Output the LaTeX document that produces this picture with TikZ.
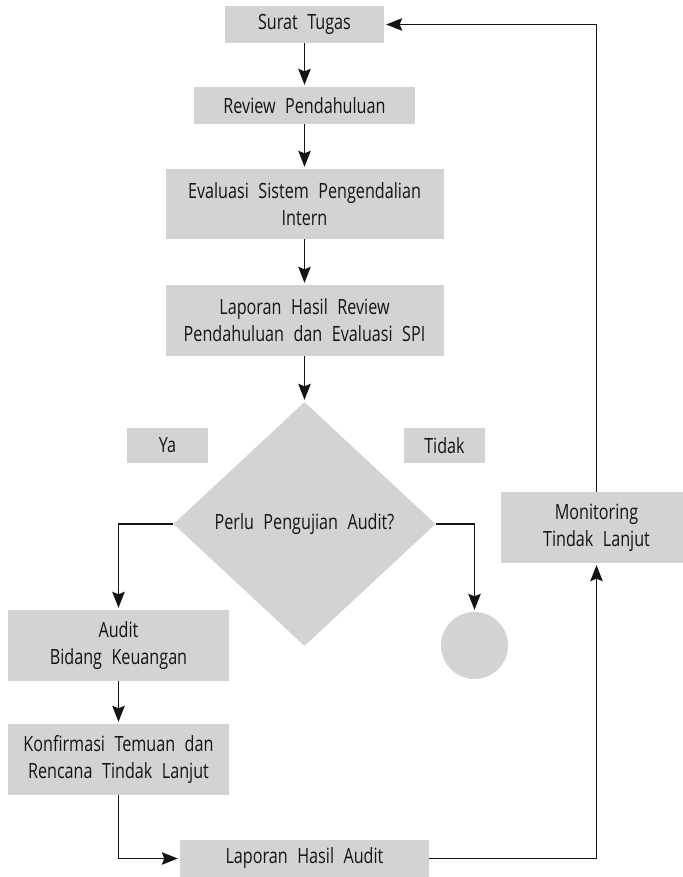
\documentclass[tikz,border=0pt]{standalone}
\usepackage{fontspec}
\setmainfont{Open Sans}[FakeStretch=0.77]
\usetikzlibrary{shapes.geometric,arrows.meta}
\definecolor{boxgray}{HTML}{D3D3D3}
\definecolor{txtgray}{HTML}{141414}
\newcommand\myboxfont{\fontsize{21}{27}\selectfont\spaceskip=0.45em plus 0.1em\relax}
\tikzset{
  box/.style={rectangle, fill=boxgray, inner sep=0pt, align=center, text=txtgray, font=\myboxfont},
  arr/.style={line width=1.3pt, draw=txtgray, -{Stealth[length=16pt,width=12.5pt,inset=2.5pt]}, shorten >=2pt},
}
\begin{document}
\begin{tikzpicture}[x=1pt,y=-1pt]
\useasboundingbox (0,0) rectangle (682,877);
\node[box, minimum width=159pt, minimum height=37pt] (st) at (304.5,24.5) {Surat Tugas};
\node[box, minimum width=221pt, minimum height=37pt] (rp) at (304.5,105.5) {Review Pendahuluan};
\node[box, minimum width=278pt, minimum height=70pt] (esp) at (304.5,204) {Evaluasi Sistem Pengendalian\\Intern};
\node[box, minimum width=278pt, minimum height=71pt] (lhr) at (304.5,320.5) {Laporan Hasil Review\\Pendahuluan dan Evaluasi SPI};
\node[diamond, fill=boxgray, inner sep=0pt, minimum width=262pt, minimum height=244pt, text=txtgray, font=\myboxfont] (dia) at (304.5,524) {Perlu Pengujian Audit?};
\node[box, minimum width=81pt, minimum height=35pt] (ya) at (167.5,445.5) {Ya};
\node[box, minimum width=81pt, minimum height=35pt] (td) at (444.5,445.5) {Tidak};
\node[circle, fill=boxgray, minimum size=67pt, inner sep=0pt] (end) at (474.5,645.5) {};
\node[box, minimum width=221pt, minimum height=71pt] (aud) at (118.5,645.5) {Audit\\Bidang Keuangan};
\node[box, minimum width=221pt, minimum height=71pt] (konf) at (118.5,759.5) {Konfirmasi Temuan dan\\Rencana Tindak Lanjut};
\node[box, minimum width=249pt, minimum height=37pt] (lha) at (304.5,858.5) {Laporan Hasil Audit};
\node[box, minimum width=191pt, minimum height=71pt] (mon) at (596.5,527.5) {Monitoring\\Tindak Lanjut};
\draw[arr] (st) -- (rp);
\draw[arr] (rp) -- (esp);
\draw[arr] (esp) -- (lhr);
\draw[arr] (lhr) -- (dia.north);
\draw[arr] (dia.west) -| (aud.north);
\draw[arr] (dia.east) -| (end.north);
\draw[arr] (aud) -- (konf);
\draw[arr] (konf.south) |- (lha.west);
\draw[arr] (lha.east) -| (mon.south);
\draw[arr] (mon.north) |- (st.east);
\end{tikzpicture}
\end{document}
